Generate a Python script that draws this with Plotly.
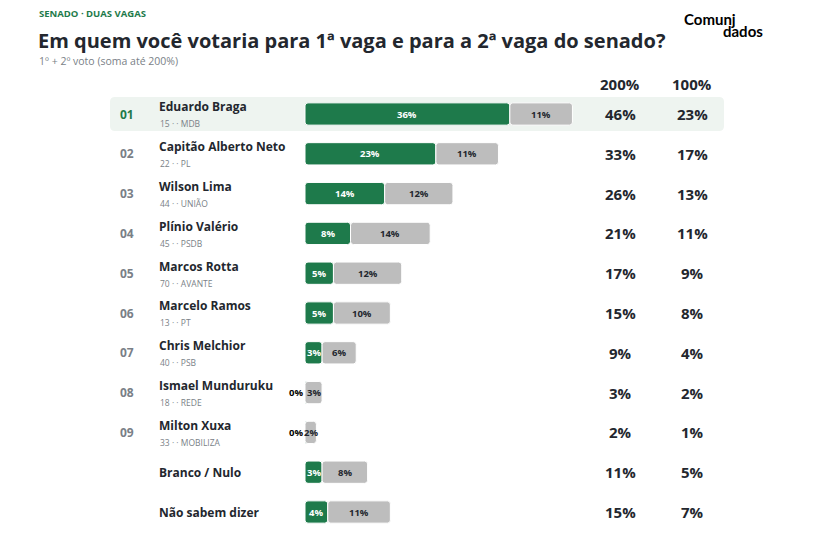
import plotly.graph_objects as go

# dados da pesquisa (senado, 1ª + 2ª vaga)
ranks = ["01", "02", "03", "04", "05", "06", "07", "08", "09", "", ""]
names = ["Eduardo Braga", "Capitão Alberto Neto", "Wilson Lima", "Plínio Valério",
         "Marcos Rotta", "Marcelo Ramos", "Chris Melchior", "Ismael Munduruku",
         "Milton Xuxa", "Branco / Nulo", "Não sabem dizer"]
parties = ["15 · · MDB", "22 · · PL", "44 · · UNIÃO", "45 · · PSDB", "70 · · AVANTE",
           "13 · · PT", "40 · · PSB", "18 · · REDE", "33 · · MOBILIZA", "", ""]
first_vote = [36, 23, 14, 8, 5, 5, 3, 0, 0, 3, 4]
second_vote = [11, 11, 12, 14, 12, 10, 6, 3, 2, 8, 11]
total_200 = [46, 33, 26, 21, 17, 15, 9, 3, 2, 11, 15]
total_100 = [23, 17, 13, 11, 9, 8, 4, 2, 1, 5, 7]

GREEN = "#1e7a4b"
GRAY = "#bdbdbd"
DARK = "#23272e"
MUTED = "#7a7f87"
FONT = "Open Sans"

OFF = 8  # page body margin
W, H = 834 - 2 * OFF, 535 - 2 * OFF
rows = list(range(len(names)))
# a zero share still gets a hairline so the row shows a green start
green_disp = [max(v, 0.35) for v in first_vote]
row_h = 39.8


def px(x):
    return (x - OFF) / W


def py(y):
    return 1 - (y - OFF) / H


fig = go.Figure()
fig.add_trace(go.Bar(
    y=rows, x=green_disp, base=0, orientation="h", width=0.56,
    marker=dict(color=GREEN, line=dict(color="white", width=1)),
    hoverinfo="skip"))
fig.add_trace(go.Bar(
    y=rows, x=second_vote, base=first_vote, orientation="h", width=0.56,
    marker=dict(color=GRAY, line=dict(color="white", width=1)),
    hoverinfo="skip"))

# highlight first row (rounded rectangle)
x0, x1, y0, y1 = px(110), px(724), -0.43, 0.43
rx, ry = 5 / W, 5 / row_h
path = (f"M {x0 + rx} {y0} L {x1 - rx} {y0} Q {x1} {y0} {x1} {y0 + ry} "
        f"L {x1} {y1 - ry} Q {x1} {y1} {x1 - rx} {y1} L {x0 + rx} {y1} "
        f"Q {x0} {y1} {x0} {y1 - ry} L {x0} {y0 + ry} Q {x0} {y0} {x0 + rx} {y0} Z")
fig.add_shape(type="path", xref="paper", yref="y", path=path,
              fillcolor="#eef4f0", line_width=0, layer="below")

ann = []
ann.append(dict(text="<b>SENADO · DUAS VAGAS</b>", x=px(38), y=py(14), font=dict(size=9.5, color=GREEN)))
ann.append(dict(text="<b>Em quem você votaria para 1ª vaga e para a 2ª vaga do senado?</b>",
                x=px(37), y=py(40), font=dict(size=20, color=DARK)))
ann.append(dict(text="1º + 2º voto (soma até 200%)", x=px(38), y=py(61.5), font=dict(size=10.5, color=MUTED)))
ann.append(dict(text="<b>Comunj</b>", x=px(683), y=py(19), font=dict(size=15, color="black", family="Lato")))
ann.append(dict(text="<b>dados</b>", x=px(722), y=py(31), font=dict(size=15, color="black", family="Lato")))
ann.append(dict(text="<b>200%</b>", x=px(620), y=py(84), xanchor="center", font=dict(size=15, color=DARK)))
ann.append(dict(text="<b>100%</b>", x=px(692), y=py(84), xanchor="center", font=dict(size=15, color=DARK)))
for a in ann:
    a.update(xref="paper", yref="paper")
    a.setdefault("xanchor", "left")

for i in rows:
    rc = GREEN if i == 0 else MUTED
    if ranks[i]:
        ann.append(dict(text="<b>" + ranks[i] + "</b>", xref="paper", x=px(119), yref="y", y=i,
                        xanchor="left", font=dict(size=12, color=rc)))
    if parties[i]:
        ann.append(dict(text="<b>" + names[i] + "</b>", xref="paper", x=px(158), yref="y", y=i - 0.18,
                        xanchor="left", font=dict(size=12, color=DARK)))
        ann.append(dict(text=parties[i], xref="paper", x=px(159), yref="y", y=i + 0.25,
                        xanchor="left", font=dict(size=8.5, color=MUTED)))
    else:
        ann.append(dict(text="<b>" + names[i] + "</b>", xref="paper", x=px(158), yref="y", y=i,
                        xanchor="left", font=dict(size=12, color=DARK)))
    ann.append(dict(text="<b>%d%%</b>" % total_200[i], xref="paper", x=px(620), yref="y", y=i,
                    xanchor="center", font=dict(size=15, color=DARK)))
    ann.append(dict(text="<b>%d%%</b>" % total_100[i], xref="paper", x=px(692), yref="y", y=i,
                    xanchor="center", font=dict(size=15, color=DARK)))
    # bar labels
    if first_vote[i] > 0:
        ann.append(dict(text="<b>%d%%</b>" % first_vote[i], xref="x", x=first_vote[i] / 2, yref="y", y=i,
                        xanchor="center", font=dict(size=9.5, color="white")))
    else:
        ann.append(dict(text="<b>0%</b>", xref="x", x=-0.1, yref="y", y=i,
                        xanchor="right", font=dict(size=9.5, color="black")))
    ann.append(dict(text="<b>%d%%</b>" % second_vote[i], xref="x", x=first_vote[i] + second_vote[i] / 2,
                    yref="y", y=i, xanchor="center", font=dict(size=9.5, color=DARK)))
for a in ann:
    a.setdefault("showarrow", False)
    a.setdefault("yanchor", "middle")
    a.setdefault("borderpad", 0)

scale = 5.69  # px per percentage point
fig.update_layout(
    width=W, height=H, margin=dict(l=0, r=0, t=0, b=0),
    paper_bgcolor="white", plot_bgcolor="white",
    barmode="overlay", barcornerradius=3, showlegend=False,
    font=dict(family=FONT, color=DARK),
    annotations=ann,
    xaxis=dict(range=[-(305 - OFF) / scale, (W - (305 - OFF)) / scale], visible=False, fixedrange=True),
    yaxis=dict(range=[(H - (114 - OFF)) / row_h, -(114 - OFF) / row_h], visible=False, fixedrange=True),
)

fig.write_html("out.html")
